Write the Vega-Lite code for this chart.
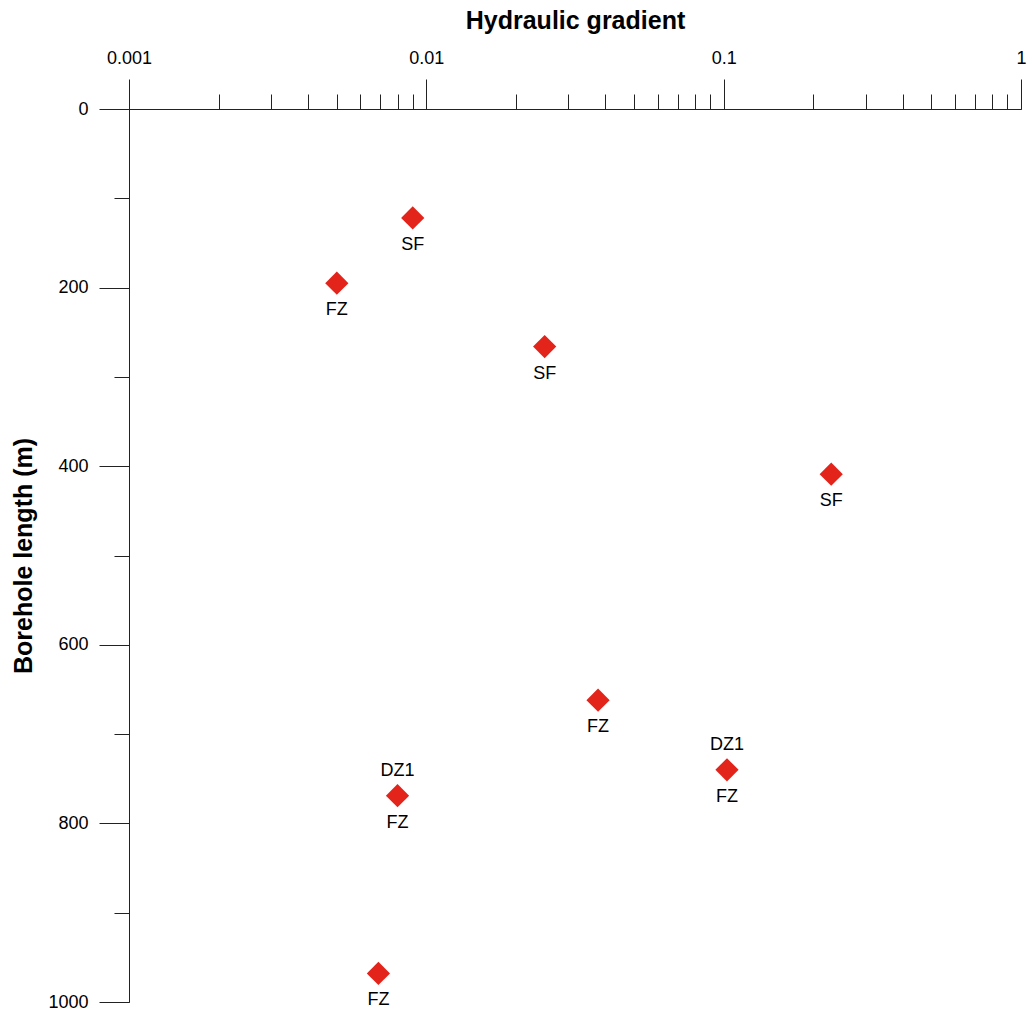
{
  "$schema": "https://vega.github.io/schema/vega-lite/v6.json",
  "autosize": "none",
  "width": 892,
  "height": 893,
  "padding": {"left": 129, "top": 109, "right": 8, "bottom": 12},
  "background": "white",
  "config": {
    "view": {"stroke": null},
    "font": "Liberation Sans",
    "axis": {"grid": false, "domainColor": "#222", "tickColor": "#222", "labelColor": "#000", "titleColor": "#000", "labelFont": "Liberation Sans", "titleFont": "Liberation Sans", "labelFontSize": 18, "titleFontSize": 25, "titleFontWeight": "bold", "labelFlush": false, "labelOverlap": false}
  },
  "data": {
    "values": [
      {"gradient": 0.009, "length": 122, "below": "SF", "above": ""},
      {"gradient": 0.005, "length": 195, "below": "FZ", "above": ""},
      {"gradient": 0.025, "length": 266, "below": "SF", "above": ""},
      {"gradient": 0.23, "length": 409, "below": "SF", "above": ""},
      {"gradient": 0.0378, "length": 662, "below": "FZ", "above": ""},
      {"gradient": 0.1026, "length": 740, "below": "FZ", "above": "DZ1"},
      {"gradient": 0.008, "length": 769, "below": "FZ", "above": "DZ1"},
      {"gradient": 0.0069, "length": 968, "below": "FZ", "above": ""}
    ]
  },
  "resolve": {"axis": {"x": "independent", "y": "independent"}},
  "layer": [
    {
      "mark": {"type": "point", "shape": "diamond", "filled": true, "size": 540, "color": "#e3241b", "opacity": 1},
      "encoding": {
        "x": {
          "field": "gradient", "type": "quantitative",
          "scale": {"type": "log", "domain": [0.001, 1], "nice": false},
          "axis": {"orient": "top", "title": null, "labels": false, "tickSize": 15,
            "values": [0.001,0.002,0.003,0.004,0.005,0.006,0.007,0.008,0.009,0.01,0.02,0.03,0.04,0.05,0.06,0.07,0.08,0.09,0.1,0.2,0.3,0.4,0.5,0.6,0.7,0.8,0.9,1]}
        },
        "y": {
          "field": "length", "type": "quantitative",
          "scale": {"domain": [0, 1000], "reverse": true, "nice": false},
          "axis": {"orient": "left", "title": null, "labels": false, "tickSize": 15,
            "values": [0,100,200,300,400,500,600,700,800,900,1000]}
        }
      }
    },
    {
      "mark": {"type": "text", "dy": 27, "fontSize": 18, "color": "#000", "font": "Liberation Sans"},
      "encoding": {
        "x": {
          "field": "gradient", "type": "quantitative",
          "axis": {"orient": "top", "title": "Hydraulic gradient", "titlePadding": 16, "domain": false, "tickSize": 30, "labelPadding": 12,
            "values": [0.001, 0.01, 0.1, 1],
            "labelExpr": "datum.value==0.001?'0.001':datum.value==0.01?'0.01':datum.value==0.1?'0.1':'1'"}
        },
        "y": {
          "field": "length", "type": "quantitative",
          "axis": {"orient": "left", "title": "Borehole length (m)", "titlePadding": 11, "domain": false, "tickSize": 30, "labelPadding": 11,
            "format": "d", "values": [0, 200, 400, 600, 800, 1000]}
        },
        "text": {"field": "below"}
      }
    },
    {
      "mark": {"type": "text", "dy": -25, "fontSize": 18, "color": "#000", "font": "Liberation Sans"},
      "encoding": {
        "x": {"field": "gradient", "type": "quantitative", "axis": null},
        "y": {"field": "length", "type": "quantitative", "axis": null},
        "text": {"field": "above"}
      }
    }
  ]
}
